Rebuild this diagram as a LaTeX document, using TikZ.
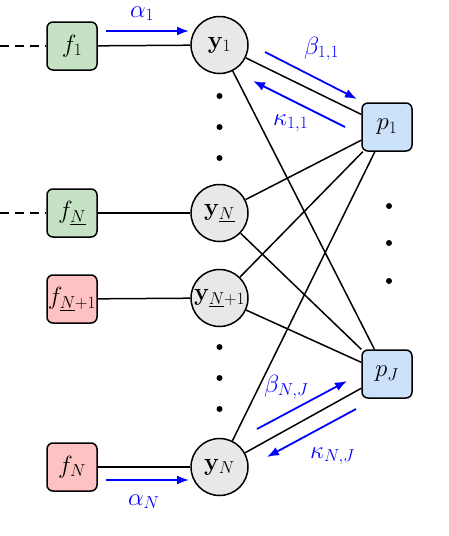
\documentclass[tikz,border=0pt]{standalone}
\usetikzlibrary{arrows.meta}
\definecolor{fgreen}{RGB}{197,226,197}
\definecolor{fred}{RGB}{255,194,194}
\definecolor{pblue}{RGB}{204,225,250}
\definecolor{ygray}{RGB}{232,232,232}
\begin{document}
\begin{tikzpicture}[x=1pt,y=-1pt,
  fbox/.style={draw,line width=1.5pt,rounded corners=6pt,minimum width=50pt,minimum height=48pt,inner sep=0pt},
  ynode/.style={draw,line width=1.5pt,circle,fill=ygray,minimum size=57pt,inner sep=0pt},
  pbox/.style={draw,line width=1.5pt,rounded corners=6pt,minimum width=50pt,minimum height=48pt,inner sep=0pt,fill=pblue},
  edge/.style={line width=1.5pt},
  flow/.style={blue,line width=1.8pt,-{Latex[length=12pt,width=9pt]}},
  lab/.style={blue,inner sep=0pt,anchor=base west},
  dot/.style={circle,fill=black,inner sep=0pt,minimum size=6pt},
  font=\fontsize{23}{27}\selectfont]
\useasboundingbox (0,0) rectangle (448,536);
% nodes
\node[fbox,fill=fgreen] (f1) at (72,46) {$f_1$};
\node[fbox,fill=fgreen] (fNu) at (72,213) {$f_{\underline{N}}$};
\node[fbox,fill=fred] (fNu1) at (72,299) {$f_{\underline{N}+1}$};
\node[fbox,fill=fred] (fN) at (72,467) {$f_N$};
\node[ynode] (y1) at (219.5,45) {$\mathbf{y}_1$};
\node[ynode] (yNu) at (219.5,213) {$\mathbf{y}_{\underline{N}}$};
\node[ynode] (yNu1) at (219.5,298) {$\mathbf{y}_{\underline{N}+1}$};
\node[ynode] (yN) at (219.5,467) {$\mathbf{y}_N$};
\node[pbox] (p1) at (387,127) {$p_1$};
\node[pbox] (pJ) at (387,374) {$p_J$};
% dashed
\coordinate (d1) at (0,46);
\coordinate (d2) at (0,213);
\draw[edge,dash pattern=on 9pt off 6pt] (d1) -- (f1.west);
\draw[edge,dash pattern=on 9pt off 6pt] (d2) -- (fNu.west);
% f-y edges
\draw[edge] (f1) -- (y1);
\draw[edge] (fNu) -- (yNu);
\draw[edge] (fNu1) -- (yNu1);
\draw[edge] (fN) -- (yN);
% y-p edges
\foreach \y in {y1,yNu,yNu1,yN}{
  \draw[edge] (\y) -- (p1);
  \draw[edge] (\y) -- (pJ);
}
% dots
\node[dot] (a1) at (219.5,96) {};
\node[dot] (a2) at (219.5,127) {};
\node[dot] (a3) at (219.5,158) {};
\node[dot] (b1) at (219.5,347) {};
\node[dot] (b2) at (219.5,378) {};
\node[dot] (b3) at (219.5,409) {};
\node[dot] (c1) at (389,206) {};
\node[dot] (c2) at (389,243) {};
\node[dot] (c3) at (389,281) {};
% flows
\coordinate (al1s) at (106,31); \coordinate (al1e) at (189,31);
\draw[flow] (al1s) -- (al1e);
\node[lab] (al1) at (130,17) {$\alpha_1$};
\coordinate (alNs) at (106,480); \coordinate (alNe) at (189,480);
\draw[flow] (alNs) -- (alNe);
\node[lab] (alN) at (128,505) {$\alpha_N$};
\coordinate (b11s) at (265,52); \coordinate (b11e) at (357,99);
\draw[flow] (b11s) -- (b11e);
\node[lab] (b11) at (304,54) {$\beta_{1,1}$};
\coordinate (k11s) at (345,127); \coordinate (k11e) at (253,81);
\draw[flow] (k11s) -- (k11e);
\node[lab] (k11) at (273,125) {$\kappa_{1,1}$};
\coordinate (bNJs) at (257,429); \coordinate (bNJe) at (347,381);
\draw[flow] (bNJs) -- (bNJe);
\node[lab] (bNJ) at (264,392) {$\beta_{N,J}$};
\coordinate (kNJs) at (356,409); \coordinate (kNJe) at (267,457);
\draw[flow] (kNJs) -- (kNJe);
\node[lab] (kNJ) at (310,458) {$\kappa_{N,J}$};
\end{tikzpicture}
\end{document}
